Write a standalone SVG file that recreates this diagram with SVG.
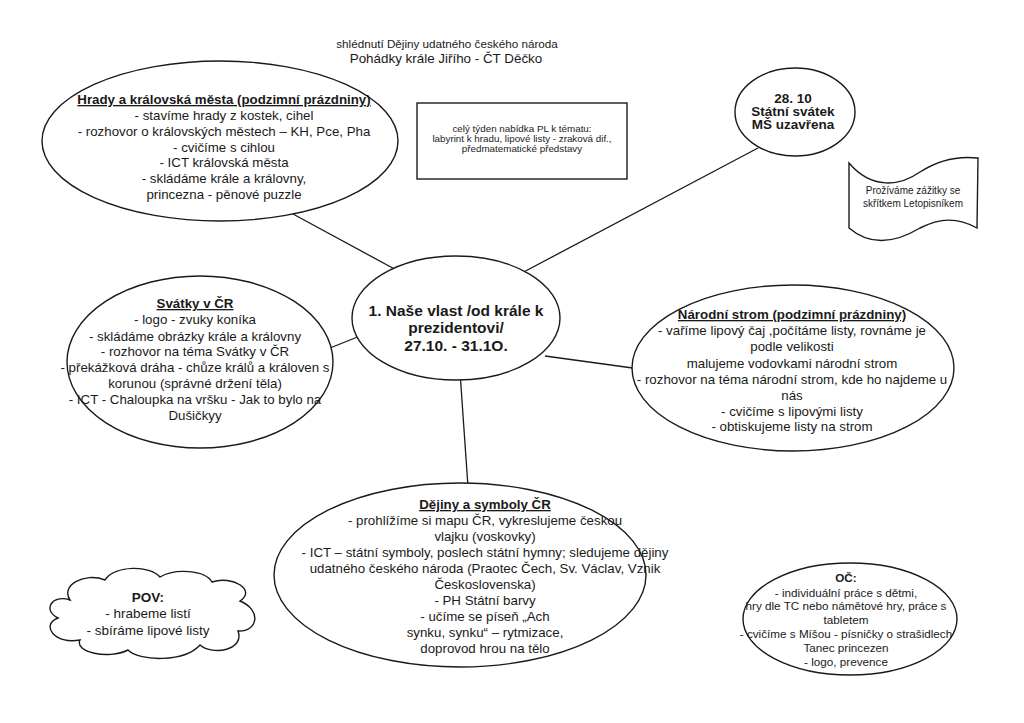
<svg xmlns="http://www.w3.org/2000/svg" width="1024" height="723" viewBox="0 0 1024 723">
<style>
text{font-family:"Liberation Sans",Arial,sans-serif;fill:#1a1a1a;text-anchor:middle}
.n{fill:#fff;stroke:#1a1a1a;stroke-width:1.4}
.c{stroke:#1a1a1a;stroke-width:1.3;fill:none}
.u{text-decoration:underline;font-weight:bold}
.b{font-weight:bold}
</style>
<rect width="1024" height="723" fill="#fff"/>
<g id="title">
<text x="447" y="48" font-size="11.7">shlédnutí Dějiny udatného českého národa</text>
<text x="446" y="63" font-size="13.4">Pohádky krále Jiřího - ČT Děčko</text>
</g>
<g id="connectors">
<line class="c" x1="293" y1="214" x2="400" y2="272"/>
<line class="c" x1="758" y1="148" x2="518" y2="275"/>
<line class="c" x1="330" y1="348" x2="360" y2="336"/>
<line class="c" x1="545" y1="356" x2="640" y2="369"/>
<line class="c" x1="460" y1="372" x2="468" y2="487"/>
</g>
<g id="hrady">
<ellipse class="n" cx="220" cy="141" rx="178" ry="80"/>
<g font-size="13.3">
<text x="224" y="104" class="u">Hrady a královská města (podzimní prázdniny)</text>
<text x="224" y="120">- stavíme hrady z kostek, cihel</text>
<text x="224" y="136">- rozhovor o královských městech – KH, Pce, Pha</text>
<text x="224" y="152">- cvičíme s cihlou</text>
<text x="224" y="167">- ICT královská města</text>
<text x="224" y="183">- skládáme krále a královny,</text>
<text x="224" y="199">princezna - pěnové puzzle</text>
</g>
</g>
<g id="nabidka">
<rect x="417" y="103" width="210" height="76" fill="#fff" stroke="#1a1a1a" stroke-width="1.4"/>
<g font-size="9.8">
<text x="522" y="131.5">celý týden nabídka PL k tématu:</text>
<text x="522" y="141.8">labyrint k hradu, lipové listy - zraková dif.,</text>
<text x="522" y="152.3">předmatematické představy</text>
</g>
</g>
<g id="svatek">
<ellipse class="n" cx="795" cy="112" rx="60" ry="44"/>
<g font-size="13.5" class="b">
<text x="793" y="103">28. 10</text>
<text x="793" y="116">Státní svátek</text>
<text x="793" y="129">MŠ uzavřena</text>
</g>
</g>
<g id="skritek">
<path class="n" d="M849,163 C872,190 900,186 920,172 C940,159 960,156 978,158 L977,228 C957,217 940,218 920,228 C895,243 870,246 849,228 Z"/>
<g font-size="10">
<text x="913" y="193.5">Prožíváme zážitky se</text>
<text x="913" y="206.5">skřítkem Letopisníkem</text>
</g>
</g>
<g id="stred">
<ellipse class="n" cx="456" cy="318" rx="104" ry="62" stroke-width="2.6"/>
<g font-size="15.5" class="b">
<text x="456" y="315.5">1. Naše vlast /od krále k</text>
<text x="456" y="332.5">prezidentovi/</text>
<text x="456" y="350.5">27.10. - 31.1O.</text>
</g>
</g>
<g id="svatky">
<ellipse class="n" cx="200" cy="362" rx="133" ry="86"/>
<g font-size="13.3">
<text x="195" y="308" class="u">Svátky v ČR</text>
<text x="195" y="324">- logo - zvuky koníka</text>
<text x="195" y="341">- skládáme obrázky krále a královny</text>
<text x="195" y="356">- rozhovor na téma Svátky v ČR</text>
<text x="195" y="372">- překážková dráha - chůze králů a královen s</text>
<text x="195" y="388">korunou (správné držení těla)</text>
<text x="195" y="404">- ICT - Chaloupka na vršku - Jak to bylo na</text>
<text x="195" y="420">Dušičkyy</text>
</g>
</g>
<g id="strom">
<ellipse class="n" cx="793" cy="368" rx="161" ry="83"/>
<g font-size="13.3">
<text x="792" y="319" class="u">Národní strom (podzimní prázdniny)</text>
<text x="792" y="335">- vaříme lipový čaj ,počítáme listy, rovnáme je</text>
<text x="792" y="351">podle velikosti</text>
<text x="792" y="368">malujeme vodovkami národní strom</text>
<text x="792" y="384">- rozhovor na téma národní strom, kde ho najdeme u</text>
<text x="792" y="400">nás</text>
<text x="792" y="416">- cvičíme s lipovými listy</text>
<text x="792" y="431">- obtiskujeme listy na strom</text>
</g>
</g>
<g id="dejiny">
<ellipse class="n" cx="460" cy="575" rx="186" ry="92"/>
<g font-size="13.3">
<text x="485" y="509" class="u">Dějiny a symboly ČR</text>
<text x="485" y="525">- prohlížíme si mapu ČR, vykreslujeme českou</text>
<text x="485" y="541">vlajku (voskovky)</text>
<text x="485" y="557">- ICT – státní symboly, poslech státní hymny; sledujeme dějiny</text>
<text x="485" y="573">udatného českého národa (Praotec Čech, Sv. Václav, Vznik</text>
<text x="485" y="589">Československa)</text>
<text x="485" y="605">- PH Státní barvy</text>
<text x="485" y="621">- učíme se píseň „Ach</text>
<text x="485" y="637">synku, synku“ – rytmizace,</text>
<text x="485" y="653">doprovod hrou na tělo</text>
</g>
</g>
<g id="pov">
<path class="n" d="M70,600 C60,585 85,572 105,580 C115,565 150,565 160,577 C175,568 205,570 212,582 C232,575 257,590 240,601 C262,610 258,632 238,631 C245,650 213,656 200,645 C185,662 140,662 128,650 C108,660 74,652 80,640 C55,645 40,625 58,618 C42,610 52,594 70,600 Z"/>
<g font-size="13.5">
<text x="148" y="602" class="b">POV:</text>
<text x="148" y="618">- hrabeme listí</text>
<text x="148" y="635">- sbíráme lipové listy</text>
</g>
</g>
<g id="oc">
<ellipse class="n" cx="850" cy="619" rx="107" ry="56"/>
<g font-size="11.7">
<text x="846" y="582" class="b">OČ:</text>
<text x="846" y="597">- individuální práce s dětmi,</text>
<text x="846" y="610">hry dle TC nebo námětové hry, práce s</text>
<text x="846" y="624">tabletem</text>
<text x="846" y="638">- cvičíme s Míšou - písničky o strašidlech</text>
<text x="846" y="652">Tanec princezen</text>
<text x="846" y="666">- logo, prevence</text>
</g>
</g>
</svg>
